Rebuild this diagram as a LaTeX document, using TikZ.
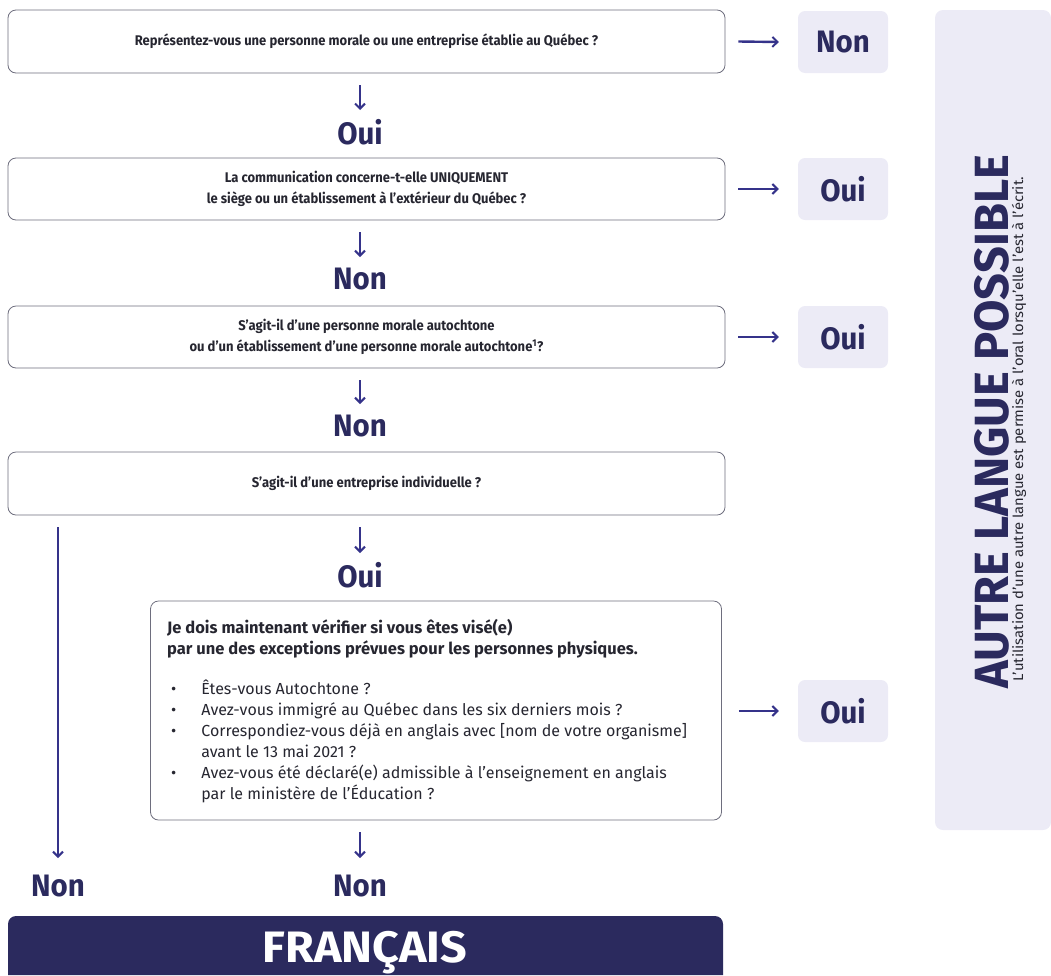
\documentclass[tikz,border=0pt]{standalone}
\usepackage{fontspec}
\setmainfont{Fira Sans}
\newfontfamily\condb[FakeStretch=0.95]{Fira Sans Bold}
\newfontfamily\condf[FakeStretch=1.06]{Fira Sans Bold}
\newfontfamily\condt[FakeStretch=0.98]{Fira Sans Bold}
\newfontfamily\condq[FakeStretch=0.93]{Fira Sans}
\newfontfamily\wides[FakeStretch=1.06]{Fira Sans}
\usetikzlibrary{arrows.meta,calc}
\definecolor{navy}{HTML}{2B2A5E}
\definecolor{arrowc}{HTML}{35338A}
\definecolor{pale}{HTML}{ECEBF6}
\definecolor{edge}{HTML}{6E6E7E}
\definecolor{txt}{HTML}{262630}
\tikzset{
  qbox/.style={draw=edge, line width=0.8pt, rounded corners=8pt, fill=white, align=center, text=txt, font=\condq\bfseries\fontsize{14}{21}\selectfont, inner sep=0pt},
  ans/.style={fill=pale, rounded corners=7pt, minimum width=90pt, minimum height=62pt, inner sep=0pt, text=navy, font=\condb\fontsize{31}{31}\selectfont},
  lbl/.style={inner sep=0pt, text=navy, font=\condb\fontsize{31}{31}\selectfont},
  arr/.style={draw=arrowc, line width=2.4pt, -{Straight Barb[length=5pt,width=10pt,line width=2pt]}},
}
\begin{document}
\begin{tikzpicture}[x=1pt,y=-1pt]
\useasboundingbox (0,0) rectangle (1051,975);
% right panel
\fill[pale, rounded corners=8pt] (935,10) rectangle (1051,830);
\node[rotate=90, anchor=base, inner sep=0pt, text=navy, font=\condt\fontsize{48}{48}\selectfont] (alp) at (1008,422) {AUTRE LANGUE POSSIBLE};
\node[rotate=90, anchor=base, inner sep=0pt, text=txt, font=\wides\fontsize{14}{16}\selectfont] (alps) at (1023,429) {L’utilisation d’une autre langue est permise à l’oral lorsqu’elle l’est à l’écrit.};

% question boxes
\node[qbox, minimum width=717pt, minimum height=63pt] (q1) at (366.5,41.5) {Représentez-vous une personne morale ou une entreprise établie au Québec ?};
\node[qbox, minimum width=717pt, minimum height=62pt] (q2) at (366.5,189) {La communication concerne-t-elle UNIQUEMENT\\le siège ou un établissement à l’extérieur du Québec ?};
\node[qbox, minimum width=717pt, minimum height=62pt] (q3) at (366.5,337) {S’agit-il d’une personne morale autochtone\\ou d’un établissement d’une personne morale autochtone\textsuperscript{1}?};
\node[qbox, minimum width=717pt, minimum height=63pt] (q4) at (366.5,483.5) {S’agit-il d’une entreprise individuelle ?};
\node[draw=edge, line width=0.8pt, rounded corners=8pt, minimum width=571pt, minimum height=219pt, inner sep=0pt] (q5) at (436,710.5) {};
\node[anchor=base west, inner sep=0pt, text=txt, align=left, font=\bfseries\fontsize{16.5}{21}\selectfont] (q5h) at (167,654) {%
Je dois maintenant vérifier si vous êtes visé(e)\\
par une des exceptions prévues pour les personnes physiques.};
\node[anchor=north west, inner sep=0pt, text=txt, align=left, font=\fontsize{16}{21}\selectfont] (q5t) at (171,680) {%
\begin{tabular}{@{}l@{\hspace{25pt}}l@{}}
\textbullet & Êtes-vous Autochtone ?\\
\textbullet & Avez-vous immigré au Québec dans les six derniers mois ?\\
\textbullet & Correspondiez-vous déjà en anglais avec [nom de votre organisme]\\
 & avant le 13 mai 2021 ?\\
\textbullet & Avez-vous été déclaré(e) admissible à l’enseignement en anglais\\
 & par le ministère de l’Éducation ?
\end{tabular}};

% answer boxes on the right
\node[ans] (a1) at (843,42) {Non};
\node[ans] (a2) at (843,189) {Oui};
\node[ans] (a3) at (843,337) {Oui};
\node[ans] (a5) at (843,711) {Oui};

% labels under the boxes
\node[lbl] (l1) at (360,132) {Oui};
\node[lbl] (l2) at (360,279) {Non};
\node[lbl] (l3) at (360,426) {Non};
\node[lbl] (l4) at (360,575) {Oui};
\node[lbl] (l5) at (360,886) {Non};
\node[lbl] (lL) at (58,886) {Non};

% francais bar
\fill[navy] (8,975) [rounded corners=8pt] -- (8,916) -- (723,916) [sharp corners] -- (723,975) -- cycle;
\node[anchor=base, inner sep=0pt, text=white, font=\condf\fontsize{44}{44}\selectfont] (fr) at (365,962) {FRANÇAIS};

% right arrows
\draw[arr] ($(q1.east)+(13,0)$) -- ($(a1.west)+(-19,0)$);
\draw[arr] ($(q2.east)+(13,0)$) -- ($(a2.west)+(-19,0)$);
\draw[arr] ($(q3.east)+(13,0)$) -- ($(a3.west)+(-19,0)$);
\draw[arr] ($(q5.east |- a5)+(17,0)$) -- ($(a5.west)+(-19,0)$);

% down arrows
\draw[arr] ($(l1 |- q1.south)+(0,12)$) -- ($(l1)+(0,-22)$);
\draw[arr] ($(l2 |- q2.south)+(0,12)$) -- ($(l2)+(0,-22)$);
\draw[arr] ($(l3 |- q3.south)+(0,12)$) -- ($(l3)+(0,-22)$);
\draw[arr] ($(l4 |- q4.south)+(0,12)$) -- ($(l4)+(0,-22)$);
\draw[arr] ($(l5 |- q5.south)+(0,12)$) -- ($(l5)+(0,-28)$);
\draw[arr] ($(lL |- q4.south)+(0,12)$) -- ($(lL)+(0,-28)$);
\end{tikzpicture}
\end{document}
